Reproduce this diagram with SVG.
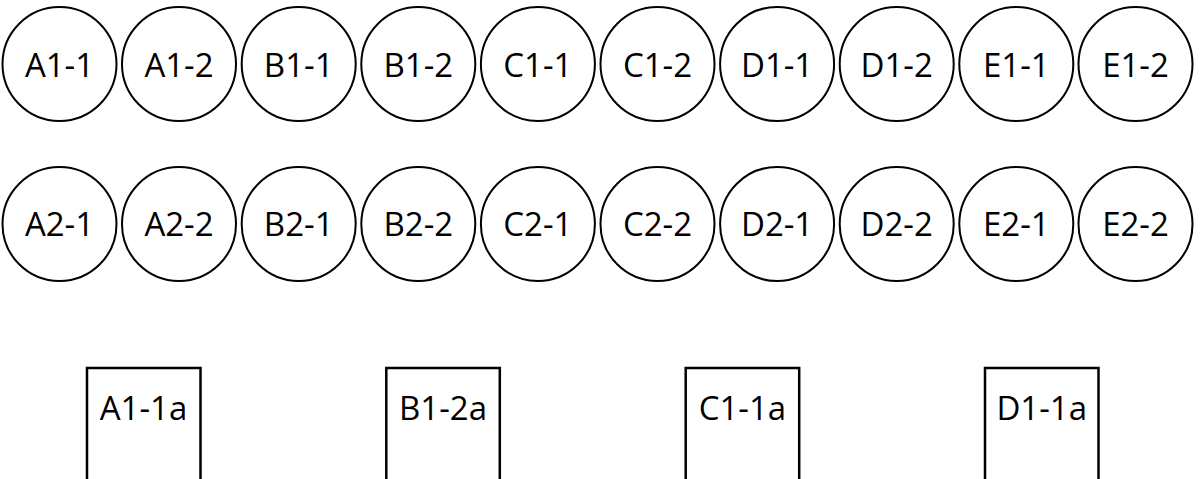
<svg xmlns="http://www.w3.org/2000/svg" width="1203" height="479" viewBox="0 0 1203 479">
<style>
.c{fill:#fff;stroke:#000;stroke-width:2}
.r{fill:#fff;stroke:#000;stroke-width:2.5}
.t{font-family:"Open Sans","Liberation Sans",sans-serif;font-size:33px;fill:#000;text-anchor:middle}
</style>
<rect width="1203" height="479" fill="#fff"/>
<g id="connectors"/>
<g id="A1-1"><circle class="c" cx="59.5" cy="64" r="57"/><text class="t" x="59.5" y="77">A1-1</text></g>
<g id="A1-2"><circle class="c" cx="179" cy="64" r="57"/><text class="t" x="179" y="77">A1-2</text></g>
<g id="B1-1"><circle class="c" cx="298.7" cy="64" r="57"/><text class="t" x="298.7" y="77">B1-1</text></g>
<g id="B1-2"><circle class="c" cx="418.3" cy="64" r="57"/><text class="t" x="418.3" y="77">B1-2</text></g>
<g id="C1-1"><circle class="c" cx="537.9" cy="64" r="57"/><text class="t" x="537.9" y="77">C1-1</text></g>
<g id="C1-2"><circle class="c" cx="657.5" cy="64" r="57"/><text class="t" x="657.5" y="77">C1-2</text></g>
<g id="D1-1"><circle class="c" cx="777.1" cy="64" r="57"/><text class="t" x="777.1" y="77">D1-1</text></g>
<g id="D1-2"><circle class="c" cx="896.7" cy="64" r="57"/><text class="t" x="896.7" y="77">D1-2</text></g>
<g id="E1-1"><circle class="c" cx="1016.3" cy="64" r="57"/><text class="t" x="1016.3" y="77">E1-1</text></g>
<g id="E1-2"><circle class="c" cx="1135.5" cy="64" r="57"/><text class="t" x="1135.5" y="77">E1-2</text></g>
<g id="A2-1"><circle class="c" cx="59.5" cy="224" r="57"/><text class="t" x="59.5" y="236">A2-1</text></g>
<g id="A2-2"><circle class="c" cx="179" cy="224" r="57"/><text class="t" x="179" y="236">A2-2</text></g>
<g id="B2-1"><circle class="c" cx="298.7" cy="224" r="57"/><text class="t" x="298.7" y="236">B2-1</text></g>
<g id="B2-2"><circle class="c" cx="418.3" cy="224" r="57"/><text class="t" x="418.3" y="236">B2-2</text></g>
<g id="C2-1"><circle class="c" cx="537.9" cy="224" r="57"/><text class="t" x="537.9" y="236">C2-1</text></g>
<g id="C2-2"><circle class="c" cx="657.5" cy="224" r="57"/><text class="t" x="657.5" y="236">C2-2</text></g>
<g id="D2-1"><circle class="c" cx="777.1" cy="224" r="57"/><text class="t" x="777.1" y="236">D2-1</text></g>
<g id="D2-2"><circle class="c" cx="896.7" cy="224" r="57"/><text class="t" x="896.7" y="236">D2-2</text></g>
<g id="E2-1"><circle class="c" cx="1016.3" cy="224" r="57"/><text class="t" x="1016.3" y="236">E2-1</text></g>
<g id="E2-2"><circle class="c" cx="1135.5" cy="224" r="57"/><text class="t" x="1135.5" y="236">E2-2</text></g>
<g id="A1-1a"><rect class="r" x="87" y="368" width="113.5" height="120"/><text class="t" x="143.5" y="420">A1-1a</text></g>
<g id="B1-2a"><rect class="r" x="386.3" y="368" width="113.5" height="120"/><text class="t" x="443" y="420">B1-2a</text></g>
<g id="C1-1a"><rect class="r" x="685.7" y="368" width="113.5" height="120"/><text class="t" x="742.4" y="420">C1-1a</text></g>
<g id="D1-1a"><rect class="r" x="985" y="368" width="113.5" height="120"/><text class="t" x="1041.7" y="420">D1-1a</text></g>
</svg>
